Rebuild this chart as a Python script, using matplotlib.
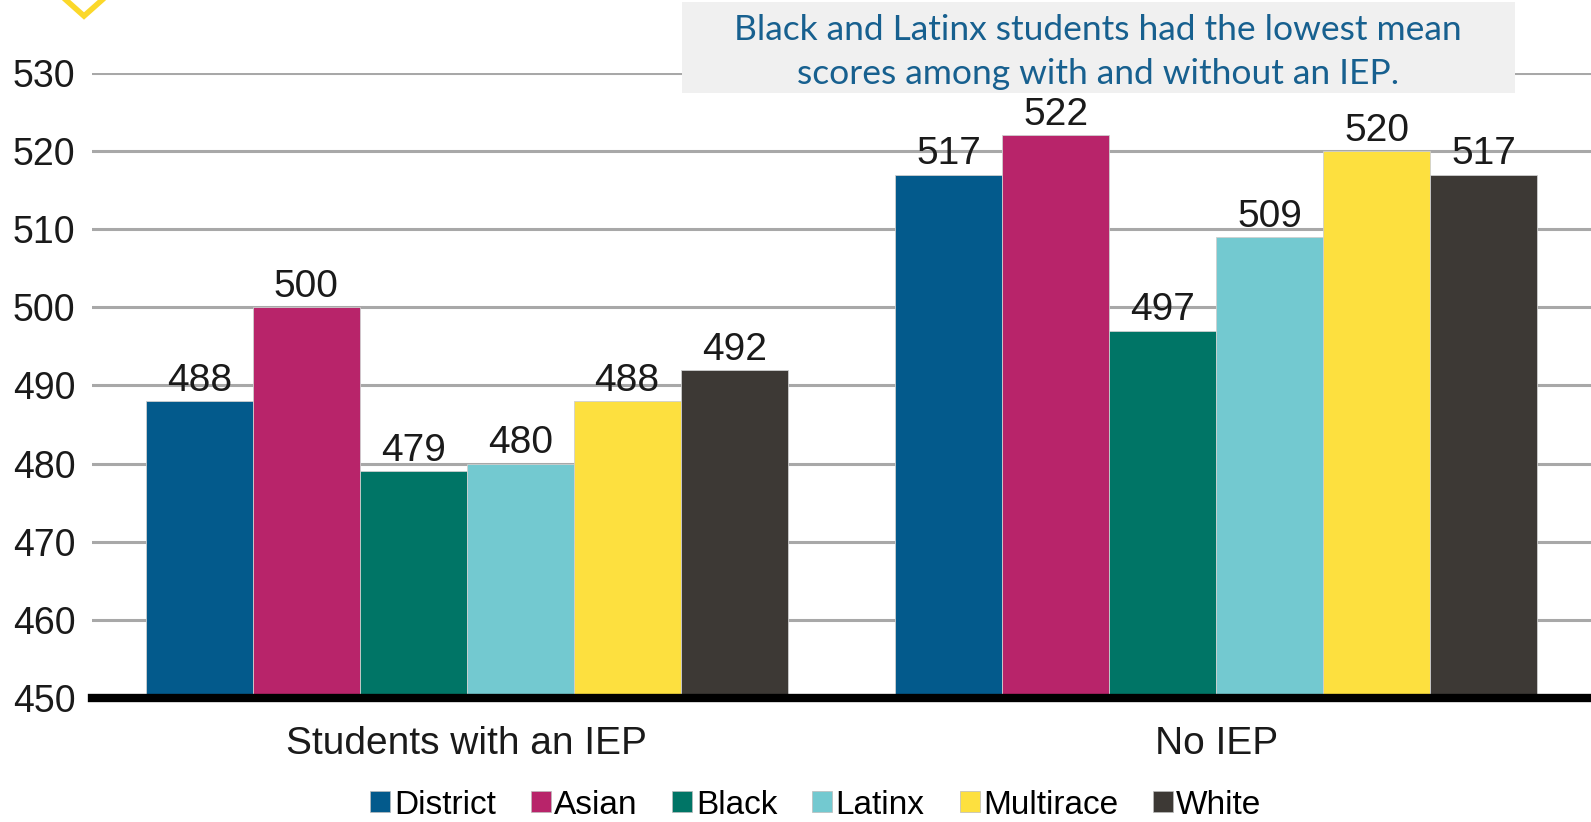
import matplotlib
matplotlib.use("Agg")
import matplotlib.pyplot as plt
import matplotlib.patches as mpatches
from matplotlib.lines import Line2D
import numpy as np

groups = ["Students with an IEP", "No IEP"]
series = ["District", "Asian", "Black", "Latinx", "Multirace", "White"]
values = {
    "District": [488, 517],
    "Asian": [500, 522],
    "Black": [479, 497],
    "Latinx": [480, 509],
    "Multirace": [488, 520],
    "White": [492, 517],
}
colors = ["#035a8c", "#b8246a", "#007566", "#73c9d0", "#fde03f", "#3d3935"]
yticks = [450, 460, 470, 480, 490, 500, 510, 520, 530]
note = "Black and Latinx students had the lowest mean\nscores among with and without an IEP."

W, H = 1591, 822
fig = plt.figure(figsize=(W / 100, H / 100), dpi=100)
ax = fig.add_axes([92 / W, 1 - 698 / H, 1 - 92 / W, (698 - 73) / H])

font = "Liberation Sans"
tc = "#1a1a1a"
x = np.arange(len(groups))
bw = 0.1427
for i, (name, c) in enumerate(zip(series, colors)):
    pos = x + (i - (len(series) - 1) / 2) * bw
    vals = values[name]
    bars = ax.bar(pos, [v - 450 for v in vals], bw, bottom=450, color=c,
                  edgecolor="#cfcfcf", linewidth=0.6, zorder=3, label=name)
    for b, v in zip(bars, vals):
        ax.text(b.get_x() + b.get_width() / 2, v + 0.3, str(v), ha="center",
                va="bottom", fontsize=28, family=font, color=tc, zorder=4)

ax.set_xlim(-0.5, 1.5)
ax.set_ylim(450, 530)
ax.set_yticks(yticks)
ax.set_yticklabels([str(t) for t in yticks], fontsize=27, family=font, color=tc)
ax.tick_params(axis="y", length=0, pad=12)
ax.set_xticks(x)
ax.set_xticklabels(groups, fontsize=28, family=font, color=tc)
ax.tick_params(axis="x", length=0, pad=20)
ax.yaxis.grid(True, color="#a8a8a8", linewidth=2.2, zorder=0)
ax.set_axisbelow(True)
for s in ["top", "right", "left"]:
    ax.spines[s].set_visible(False)
ax.spines["bottom"].set_linewidth(6)
ax.spines["bottom"].set_color("black")
ax.spines["bottom"].set_zorder(5)

handles = [mpatches.Patch(facecolor=c, edgecolor="#bbbbbb", linewidth=0.5, label=n)
           for n, c in zip(series, colors)]
fig.legend(handles=handles, loc="center", bbox_to_anchor=(816 / W, 1 - 805 / H),
           ncol=6, frameon=False, prop={"family": font, "size": 24},
           handlelength=0.6, handleheight=0.6, handletextpad=0.1, columnspacing=1.05,
           borderpad=0)

# note box
fig.patches.append(mpatches.Rectangle((682 / W, 1 - 93 / H), (1515 - 682) / W, 91 / H,
                                      transform=fig.transFigure, facecolor="#f0f0f0",
                                      edgecolor="none", zorder=5))
fig.text(1098 / W, 1 - 52 / H, note, ha="center", va="center", fontsize=25.5,
         family="Lato", color="#17608f", linespacing=1.45, zorder=6)

# yellow chevron
fig.add_artist(Line2D([66 / W, 84 / W, 102 / W], [1 - 0 / H, 1 - 16 / H, 1 - 0 / H],
                      transform=fig.transFigure, color="#fbd82a", linewidth=4,
                      solid_joinstyle="miter"))

fig.savefig("out.png", dpi=100)
